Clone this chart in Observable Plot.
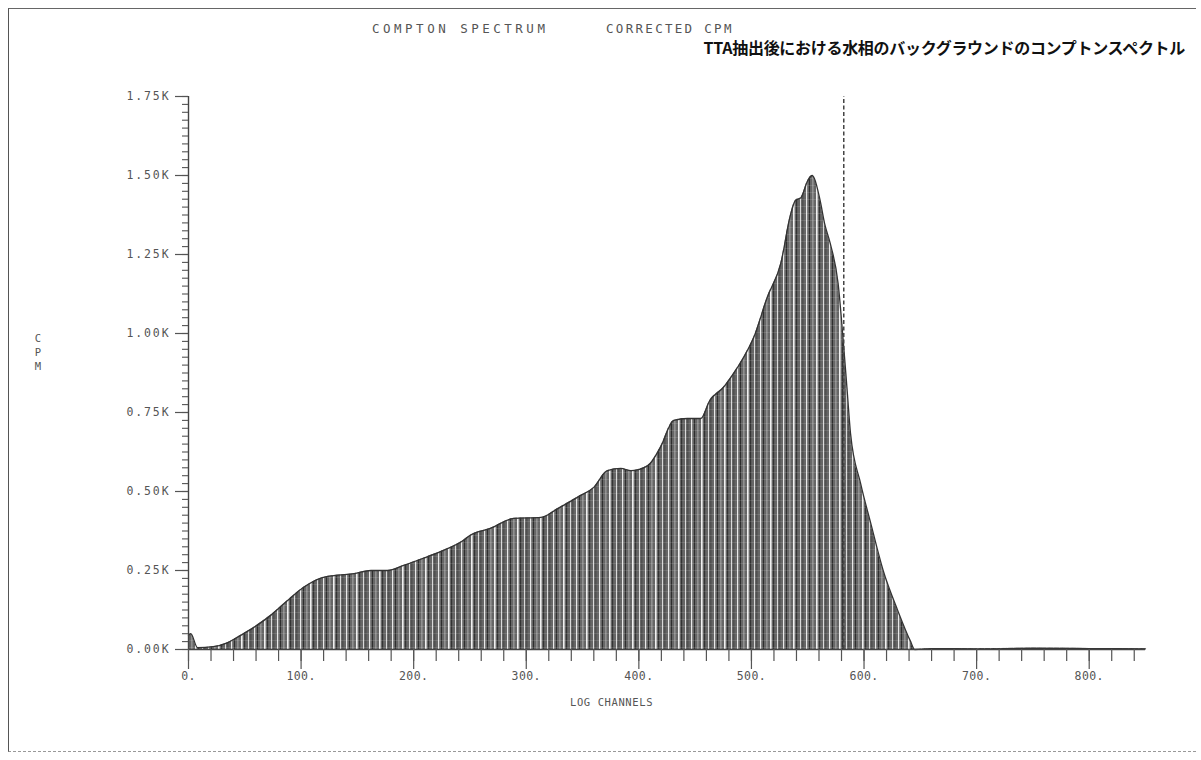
<!DOCTYPE html>
<html>
<head>
<meta charset="utf-8">
<script src="https://cdn.jsdelivr.net/npm/d3@7"></script>
<script src="https://cdn.jsdelivr.net/npm/@observablehq/plot@0.6"></script>
<style>
  html, body { margin: 0; padding: 0; background: #fff; }
  #page { position: relative; width: 1201px; height: 760px; overflow: hidden; background: #fff; }
  #frame { position: absolute; left: 8px; top: 8px; width: 1187px; height: 742px;
           border-top: 1px solid #666; border-left: 1.5px solid #555; border-bottom: 1px dashed #999; }
  .plotter { position: absolute; font-family: "DejaVu Sans Mono", monospace; color: #555; white-space: pre; }
  #chart { position: absolute; left: 0; top: 0; }
  #chart svg text { font-family: "DejaVu Sans Mono", monospace; }
  #chart g[aria-label="y-axis tick label"] text { letter-spacing: 1.9px; }
  #chart g[aria-label="x-axis tick label"] text { letter-spacing: 0.4px; }
</style>
</head>
<body>
<svg width="0" height="0" style="position:absolute">
  <defs>
    <pattern id="hatch" patternUnits="userSpaceOnUse" width="23" height="7">
      <rect width="23" height="7" fill="#666"/>
      <rect x="1" width="1.2" height="7" fill="#fff" opacity="0.85"/>
      <rect x="4" width="1" height="7" fill="#2e2e2e"/>
      <rect x="7.5" width="0.8" height="7" fill="#fff" opacity="0.55"/>
      <rect x="11" width="1.6" height="7" fill="#fff" opacity="0.9"/>
      <rect x="14" width="1.2" height="7" fill="#333"/>
      <rect x="18" width="1" height="7" fill="#fff" opacity="0.75"/>
      <rect x="20.5" width="0.8" height="7" fill="#3a3a3a"/>
      <rect y="3" width="23" height="1" fill="#fff" opacity="0.12"/>
    </pattern>
  </defs>
</svg>
<div id="page">
  <div id="frame"></div>
  <div id="chart"></div>
  <div class="plotter" id="t1" style="left:372px; top:21px; font-size:12.5px; letter-spacing:3.5px;">COMPTON SPECTRUM</div>
  <div class="plotter" id="t2" style="left:606px; top:21px; font-size:12.5px; letter-spacing:2.3px;">CORRECTED CPM</div>
  <div id="t3" style="position:absolute; right:16px; top:38px; font-family:'Noto Sans CJK JP','Noto Sans',sans-serif; font-weight:bold; font-size:16px; line-height:18px; color:#111; letter-spacing:-0.3px; white-space:pre;">TTA抽出後における水相のバックグラウンドのコンプトンスペクトル</div>
  <div class="plotter" id="ylab" style="left:33px; top:331px; font-size:10.5px; line-height:14px; text-align:center; width:10px;">C<br>P<br>M</div>
  <div class="plotter" id="xlab" style="left:570px; top:696px; font-size:10.5px; letter-spacing:0.6px;">LOG CHANNELS</div>
</div>
<script>
// ---- data ----
const channels = [0, 2, 8, 22, 35, 46, 58, 73, 88, 102, 117, 129, 147, 162, 177, 191, 208, 226, 244, 250,
  268, 289, 313, 328, 348, 360, 372, 384, 393, 408, 419, 431, 443, 455, 463, 475, 484, 493, 502, 514,
  526, 535, 539, 544, 550, 554, 556, 561, 565, 570, 577, 582, 585, 588, 597, 606, 617, 630, 641, 645,
  660, 700, 750, 800, 850];
const cpm = [45, 50, 6, 9, 22, 44, 70, 108, 155, 196, 225, 234, 240, 250, 250, 266, 288, 313, 345, 361,
  383, 415, 418, 446, 487, 513, 566, 573, 566, 582, 639, 725, 731, 731, 788, 829, 873, 924, 987, 1114,
  1221, 1380, 1421, 1430, 1484, 1500, 1490, 1421, 1348, 1285, 1158, 956, 820, 684, 525, 399, 250, 123, 28, 0,
  3, 2, 4, 3, 2];
const markerChannel = [582];
const xTicks = [0, 100, 200, 300, 400, 500, 600, 700, 800];
const yTicks = [0, 250, 500, 750, 1000, 1250, 1500, 1750];

const data = channels.map((c, i) => ({channel: c, cpm: cpm[i]}));
const xMinor = d3.range(0, 851, 20);
const yMinor = d3.range(0, 1751, 25);

const chart = Plot.plot({
  width: 1201,
  height: 760,
  marginLeft: 188,
  marginRight: 56,
  marginTop: 96,
  marginBottom: 111,
  style: {background: "transparent", color: "#555", fontSize: "11.5px", fontFamily: "DejaVu Sans Mono, monospace"},
  x: {domain: [0, 850], label: null},
  y: {domain: [0, 1750], label: null},
  marks: [
    Plot.areaY(data, {x: "channel", y: "cpm", fill: "url(#hatch)", curve: "monotone-x"}),
    Plot.lineY(data, {x: "channel", y: "cpm", stroke: "#333", strokeWidth: 1.3, curve: "monotone-x"}),
    Plot.ruleX(markerChannel, {y1: 0, y2: 1750, stroke: "#444", strokeWidth: 1.5, strokeDasharray: "4,2.5"}),
    Plot.ruleY([0], {stroke: "#444", strokeWidth: 1.4}),
    Plot.ruleX([0], {stroke: "#444", strokeWidth: 1.4}),
    // minor & major ticks
    Plot.axisX({ticks: xMinor, tickSize: 12, text: null, stroke: "#555", strokeWidth: 1.2}),
    Plot.axisX({ticks: xTicks, tickSize: 20, text: null, stroke: "#555", strokeWidth: 1.2}),
    Plot.axisX({ticks: xTicks, tickSize: 0, tickPadding: 22, tickFormat: d => d + ".", fill: "#555"}),
    Plot.axisY({ticks: yMinor, tickSize: 6, text: null, stroke: "#555", strokeWidth: 1.1}),
    Plot.axisY({ticks: yTicks, tickSize: 13, text: null, stroke: "#555", strokeWidth: 1.2}),
    Plot.axisY({ticks: yTicks, tickSize: 0, tickPadding: 18, tickFormat: d => (d / 1000).toFixed(2) + "K", fill: "#555"})
  ]
});
document.getElementById("chart").appendChild(chart);
</script>
</body>
</html>
